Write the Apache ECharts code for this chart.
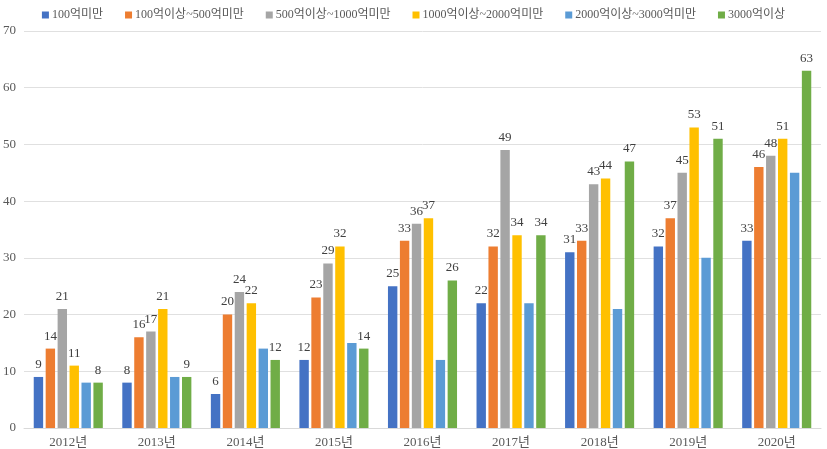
<!DOCTYPE html>
<html><head><meta charset="utf-8">
<script src="https://cdn.jsdelivr.net/npm/echarts@6/dist/echarts.min.js"></script>
<style>html,body{margin:0;padding:0;background:#fff}#c{width:827px;height:449px}</style>
</head><body><div id="c"></div>
<script>
const categories = ['2012년','2013년','2014년','2015년','2016년','2017년','2018년','2019년','2020년'];
const seriesNames = ['100억미만','100억이상~500억미만','500억이상~1000억미만','1000억이상~2000억미만','2000억이상~3000억미만','3000억이상'];
const s100 = [9,8,6,12,25,22,31,32,33];
const s500 = [14,16,20,23,33,32,33,37,46];
const s1000 = [21,17,24,29,36,49,43,45,48];
const s2000 = [11,21,22,32,37,34,44,53,51];
const s3000 = [8,9,14,15,12,22,21,30,45];
const sOver = [8,9,12,14,26,34,47,51,63];
const showLabels = [true,true,true,true,false,true];
const colors = ['#4472C4','#ED7D31','#A5A5A5','#FFC000','#5B9BD5','#70AD47'];
const allData = [s100,s500,s1000,s2000,s3000,sOver];
const font = "'Liberation Serif','DejaVu Serif','Noto Sans CJK KR',serif";
const chart = echarts.init(document.getElementById('c'));
chart.setOption({
  animation:false,
  textStyle:{fontFamily:font},
  legend:{top:4,left:'center',itemWidth:7,itemHeight:7,itemGap:22,icon:'rect',
    textStyle:{fontFamily:font,fontSize:12,color:'#595959',padding:[0,0,0,-2]}},
  grid:{left:22,right:6,top:31,bottom:21},
  xAxis:{type:'category',data:categories,
    axisLine:{lineStyle:{color:'#d9d9d9',width:1}},axisTick:{show:false},
    axisLabel:{fontFamily:font,fontSize:13,color:'#595959',margin:8}},
  yAxis:{type:'value',min:0,max:70,interval:10,
    axisLabel:{fontFamily:font,fontSize:13,color:'#595959',margin:8},
    splitLine:{lineStyle:{color:'#e0e0e0'}}},
  series: allData.map((d,i)=>({
    name:seriesNames[i],type:'bar',data:d,barGap:'27%',barCategoryGap:'22%',
    itemStyle:{color:colors[i]},
    label:{show:showLabels[i],position:'top',distance:6,fontFamily:font,fontSize:13,color:'#404040'}
  }))
});
</script></body></html>
